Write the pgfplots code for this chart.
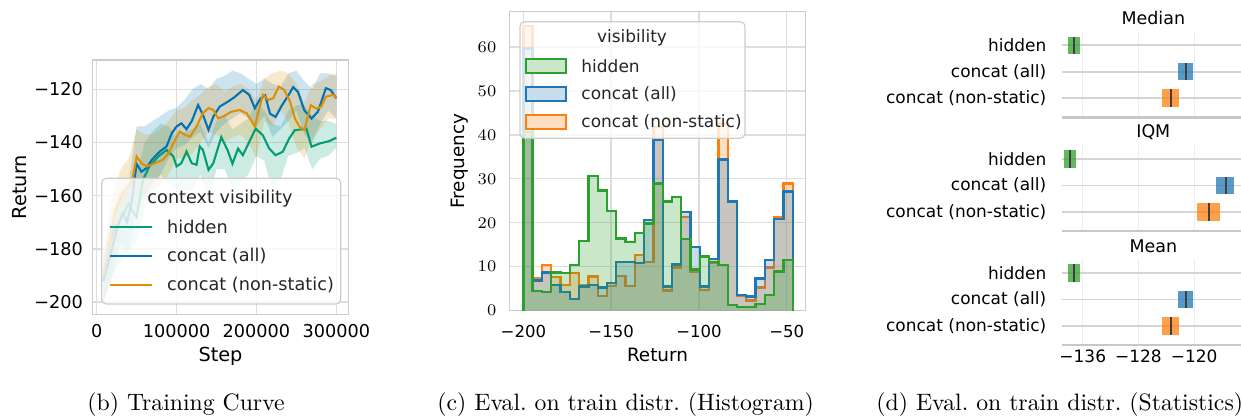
\documentclass[border=0pt]{standalone}
\usepackage{fontspec}
\usepackage{pgfplots}
\usepackage{pgfplotstable}
\pgfplotsset{compat=1.18}
\usepgfplotslibrary{fillbetween}
\newfontfamily\sns{DejaVu Sans}

% seaborn colorblind (training curve)
\definecolor{cbgreen}{HTML}{029E73}
\definecolor{cbblue}{HTML}{0173B2}
\definecolor{cborange}{HTML}{DE8F05}
% tab10 (histogram, statistics)
\definecolor{tabgreen}{HTML}{2CA02C}
\definecolor{tabblue}{HTML}{1F77B4}
\definecolor{taborange}{HTML}{FF7F0E}

\pgfplotsset{
  sb/.style={
    scale only axis, anchor=south west,
    axis line style={draw=black!20, line width=0.6pt},
    grid=major, major grid style={draw=black!13, line width=0.6pt},
    major tick length=0pt,
    tick label style={inner sep=0pt},
  }
}

% CI bands of the training curve
\pgfplotstableread{
x      gu    gl    bu    bl    ou    ol
8300   -184  -200  -184  -200  -181  -200
20000  -165  -190  -168  -190  -160  -185
30000  -160  -185  -158  -178  -150  -175
40000  -158  -180  -155  -182  -146  -168
50000  -152  -178  -134  -165  -135  -158
60000  -140  -165  -134  -160  -137  -160
70000  -136  -157  -132  -155  -137  -158
80000  -133  -152  -130  -152  -135  -156
90000  -134  -155  -128  -146  -132  -152
100000 -138  -158  -127  -142  -128  -146
110000 -136  -158  -124  -141  -127  -146
120000 -135  -158  -120  -138  -124  -144
130000 -133  -152  -118  -136  -122  -140
140000 -140  -162  -120  -142  -119  -136
150000 -132  -150  -116  -136  -118  -137
160000 -130  -150  -115  -133  -121  -140
170000 -135  -157  -113  -131  -119  -138
180000 -133  -155  -114  -129  -118  -137
190000 -131  -152  -116  -131  -120  -140
200000 -125  -145  -118  -134  -124  -146
210000 -128  -147  -116  -130  -116  -132
220000 -133  -158  -118  -138  -114  -134
230000 -134  -154  -119  -135  -113  -128
240000 -128  -145  -114  -132  -114  -132
250000 -126  -144  -113  -128  -118  -142
260000 -126  -142  -117  -137  -125  -146
270000 -130  -150  -120  -140  -118  -138
280000 -132  -146  -114  -133  -117  -135
290000 -132  -145  -114  -128  -115  -131
300000 -133  -142  -115  -131  -114  -131
}\bands

% histogram: left bin edges, counts (hidden, concat all, concat non-static)
\pgfplotstableread{
x        h     a     n
-200     0     0     0
-200     40.7  59.6  64.7
-194.71  4.5   6.9   7.5
-189.42  4.2   8.7   10.4
-184.13  8.7   5.8   7.7
-178.84  8.5   4.2   5.8
-173.55  10.4  2.6   8.5
-168.26  15.8  5.5   5.8
-162.97  30.6  5.8   7.8
-157.68  27.3  5.3   3.3
-152.39  22.7  6.3   5.6
-147.10  16.4  11.1  7.9
-141.81  15.7  11.1  5.6
-136.52  17.6  10.9  12.7
-131.23  19.8  20.6  11.1
-125.94  28.9  38.9  41.8
-120.65  24.8  5.5   4.6
-115.36  25.9  10.5  9.8
-110.07  16.3  22.4  21.3
-104.78  9.4   14.5  8.9
-99.49   12.3  5.5   4.7
-94.20   11.1  11.7  10.8
-88.91   10.4  34.4  42.6
-83.62   1.3   24.8  24.8
-78.33   0.9   3.6   3.3
-73.04   0.8   3.2   2.3
-67.75   1.5   7.3   5.3
-62.46   3.6   11.5  9.8
-57.17   8.9   20.8  21.3
-51.88   11.5  27.1  28.9
-46.59   11.5  27.1  28.9
-46.59   0     0     0
}\histdata

% interval box: colour, y-low, y-high, lo, hi, point estimate
\newcommand{\statbox}[6]{%
  \addplot[draw=none, fill=#1, fill opacity=0.75] coordinates {(#4,#2) (#5,#2) (#5,#3) (#4,#3)};
  \addplot[black!75, line width=0.7pt] coordinates {(#6,#2) (#6,#3)};
}

\begin{document}
\begin{tikzpicture}[x=0.43pt,y=-0.43pt]

% ---------------- (b) training curve
\begin{axis}[sb, at={(39.861pt,-135.149pt)}, width=109.9pt, height=109.35pt,
  xmin=-5000, xmax=315000, ymin=-204.6, ymax=-109,
  scaled x ticks=false,
  xtick={0,100000,200000,300000}, xticklabels={0,100000,200000,300000},
  ytick={-200,-180,-160,-140,-120}, yticklabels={−200,−180,−160,−140,−120},
  tick label style={font=\sns\fontsize{7.6}{9}\selectfont},
  xticklabel style={anchor=center, yshift=-7.2pt},
  yticklabel style={anchor=east, xshift=-4pt},
  label style={font=\sns\fontsize{8.3}{10}\selectfont},
  xlabel={Step}, ylabel={Return},
  xlabel style={at={(axis description cs:0.5,-0.1667)}, anchor=center},
  ylabel style={at={(axis description cs:-0.2844,0.5)}, anchor=center},
]
\addplot[cbgreen, line width=0.9pt] coordinates {
(8300,-192) (16000,-178) (22000,-173) (28000,-170) (35000,-166) (40000,-163)
(45000,-166) (50000,-168) (58000,-154) (66000,-149) (77000,-145.3) (87500,-142.8)
(96000,-145.3) (100000,-149) (106000,-147.8) (112500,-143.4) (119000,-147.8)
(125000,-148.4) (129000,-141.5) (133000,-142.8) (140000,-150.3) (146000,-147.8)
(156000,-138) (164000,-143) (170000,-148) (177000,-142.3) (183000,-144.8)
(191000,-139.8) (199000,-134.8) (208000,-137.3) (216000,-142.3) (224000,-144.8)
(233000,-143.5) (241000,-138.5) (248000,-135.4) (256000,-135.1) (262500,-134.8)
(269000,-141.6) (279000,-140.4) (291000,-139.5) (300000,-138.2)};
\addplot[name path=gu, draw=none] table[x=x, y=gu] {\bands};
\addplot[name path=gl, draw=none] table[x=x, y=gl] {\bands};
\addplot[fill=cbgreen, fill opacity=0.2, draw=none] fill between[of=gu and gl];

\addplot[cbblue, line width=0.9pt] coordinates {
(8300,-192) (15000,-185) (20700,-178) (27000,-171) (33000,-166.5) (38000,-170)
(44000,-162) (50000,-148) (56000,-151) (62500,-149.6) (69000,-146.5) (79000,-143.4)
(87500,-141.5) (94000,-136.5) (100000,-134) (106000,-132.8) (112500,-135)
(119000,-132) (127000,-125.9) (133000,-129.6) (140000,-135.3) (146000,-130.3)
(154000,-126.5) (162500,-125) (172000,-123.1) (183000,-120.3) (191000,-122.1)
(198000,-127.1) (205000,-123.5) (211000,-122.3) (217000,-129.2) (224000,-130.4)
(232000,-126) (240000,-122.3) (246000,-119.2) (252000,-121) (260000,-127.9)
(269000,-131) (277000,-128.4) (287000,-119.6) (293000,-120.3) (300000,-123.4)};
\addplot[name path=bu, draw=none] table[x=x, y=bu] {\bands};
\addplot[name path=bl, draw=none] table[x=x, y=bl] {\bands};
\addplot[fill=cbblue, fill opacity=0.2, draw=none] fill between[of=bu and bl];

\addplot[cborange, line width=0.9pt] coordinates {
(8300,-190) (15000,-180) (23000,-166) (33000,-159) (44000,-155) (50000,-145.3)
(56000,-147.8) (62500,-149) (73000,-147.8) (83000,-146.5) (90000,-144)
(96000,-140.3) (104000,-135.9) (110000,-137.1) (117000,-137.8) (125000,-134)
(133000,-129) (140000,-127.1) (146000,-127.8) (152000,-130.9) (160000,-130)
(168000,-128.5) (179000,-127.8) (188000,-129.1) (198000,-134) (208000,-122.1)
(215000,-124) (221000,-123.4) (228000,-119) (235000,-120.3) (242000,-124.6)
(248000,-130.9) (254000,-134.1) (260000,-135.3) (268000,-126) (275000,-127.3)
(281000,-126.6) (287000,-122.8) (296000,-122.1) (300000,-123.2)};
\addplot[name path=ou, draw=none] table[x=x, y=ou] {\bands};
\addplot[name path=ol, draw=none] table[x=x, y=ol] {\bands};
\addplot[fill=cborange, fill opacity=0.2, draw=none] fill between[of=ou and ol];
\end{axis}

% legend (b)
\draw[black!20, line width=0.5pt, fill=white, fill opacity=0.8, rounded corners=2pt]
  (101.7,178.3) rectangle (340.7,304);
\begin{scope}[every node/.style={font=\sns\fontsize{7.6}{9}\selectfont, inner sep=0pt, text=black!85}]
\node at (220,199) {context visibility};
\draw[cbgreen, line width=0.9pt] (110,226.7) -- (151.7,226.7);
\node[anchor=west] at (166.7,226.7) {hidden};
\draw[cbblue, line width=0.9pt] (110,256) -- (151.7,256);
\node[anchor=west] at (166.7,256) {concat (all)};
\draw[cborange, line width=0.9pt] (110,285) -- (151.7,285);
\node[anchor=west] at (166.7,285) {concat (non-static)};
\end{scope}

% ---------------- (c) histogram
\begin{axis}[sb, at={(218.999pt,-133.601pt)}, width=127.45pt, height=128.57pt,
  xmin=-208, xmax=-39.2, ymin=0, ymax=68,
  xtick={-200,-150,-100,-50}, xticklabels={−200,−150,−100,−50},
  ytick={0,10,20,30,40,50,60},
  tick label style={font=\sns\fontsize{7.1}{9}\selectfont},
  xticklabel style={anchor=center, yshift=-9pt},
  yticklabel style={anchor=east, xshift=-5.4pt},
  label style={font=\sns\fontsize{7.9}{10}\selectfont},
  xlabel={Return}, ylabel={Frequency},
  xlabel style={at={(axis description cs:0.5,-0.148)}, anchor=center},
  ylabel style={at={(axis description cs:-0.1687,0.5)}, anchor=center},
]
\addplot[const plot mark left, draw=taborange, line width=1pt, fill=taborange, fill opacity=0.25]
  table[x=x, y=n] {\histdata};
\addplot[const plot mark left, draw=tabblue, line width=1pt, fill=tabblue, fill opacity=0.25]
  table[x=x, y=a] {\histdata};
\addplot[const plot mark left, draw=tabgreen, line width=1pt, fill=tabgreen, fill opacity=0.25]
  table[x=x, y=h] {\histdata};
\end{axis}

% legend (c)
\draw[black!20, line width=0.5pt, fill=white, fill opacity=0.8, rounded corners=2pt]
  (520,21.7) rectangle (745,138.3);
\begin{scope}[every node/.style={font=\sns\fontsize{7.3}{9}\selectfont, inner sep=0pt, text=black!85}]
\node at (632,38) {visibility};
\draw[tabgreen, line width=1pt, fill=tabgreen!25] (526,59) rectangle (566,73);
\node[anchor=west] at (581,66) {hidden};
\draw[tabblue, line width=1pt, fill=tabblue!25] (526,87.3) rectangle (566,101.3);
\node[anchor=west] at (581,94.3) {concat (all)};
\draw[taborange, line width=1pt, fill=taborange!25] (526,114.7) rectangle (566,128.7);
\node[anchor=west] at (581,121.7) {concat (non-static)};
\end{scope}

% ---------------- (d) statistics
\pgfplotsset{
  st/.style={
    sb, width=78.26pt, height=36.81pt,
    xmin=-138.93, xmax=-112.81, ymin=-0.72, ymax=2.513,
    axis line style={draw=none},
    major x grid style={draw=black!7, line width=0.6pt},
    major y grid style={draw=black!17, line width=0.7pt},
    xtick={-136,-128,-120}, xticklabels={},
    ytick={0,1,2}, yticklabels={concat (non-static),concat (all),hidden},
    tick label style={font=\sns\fontsize{7.3}{9}\selectfont},
    xticklabel style={anchor=center, yshift=-5pt},
    yticklabel style={anchor=east, xshift=-6.7pt},
    every axis title shift=0pt,
    title style={font=\sns\fontsize{7.5}{9}\selectfont, at={(axis description cs:0.5,1)}, anchor=center, yshift=5.8pt},
    extra description/.code={\draw[black!22, line width=1.2pt] (0,0) -- (1,0);},
  }
}
\begin{axis}[st, at={(456.789pt,-50.439pt)}, title={Median}]
\statbox{tabgreen}{1.67}{2.33}{-138.07}{-136.39}{-137.29}
\statbox{tabblue}{0.67}{1.33}{-122.37}{-120.22}{-121.22}
\statbox{taborange}{-0.33}{0.33}{-124.58}{-122.23}{-123.37}
\end{axis}
\begin{axis}[st, at={(456.789pt,-99.33pt)}, title={IQM}]
\statbox{tabgreen}{1.67}{2.33}{-138.68}{-136.96}{-137.87}
\statbox{tabblue}{0.67}{1.33}{-116.88}{-114.25}{-115.48}
\statbox{taborange}{-0.33}{0.33}{-119.56}{-116.30}{-117.92}
\end{axis}
\begin{axis}[st, at={(456.789pt,-148.35pt)}, title={Mean}, xticklabels={−136,−128,−120}]
\statbox{tabgreen}{1.67}{2.33}{-138.07}{-136.39}{-137.29}
\statbox{tabblue}{0.67}{1.33}{-122.37}{-120.22}{-121.22}
\statbox{taborange}{-0.33}{0.33}{-124.58}{-122.23}{-123.37}
\end{axis}

% captions
\node[anchor=base west, inner sep=0pt, font=\fontsize{10.2}{12}\selectfont] at (87,411) {(b) Training Curve};
\node[anchor=base west, inner sep=0pt, font=\fontsize{10.2}{12}\selectfont] at (437,411) {(c) Eval.\ on train distr.\ (Histogram)};
\node[anchor=base west, inner sep=0pt, font=\fontsize{10.2}{12}\selectfont] at (876,411) {(d) Eval.\ on train distr.\ (Statistics)};

\pgfresetboundingbox
\useasboundingbox (0,0) rectangle (1241,419);
\end{tikzpicture}
\end{document}
